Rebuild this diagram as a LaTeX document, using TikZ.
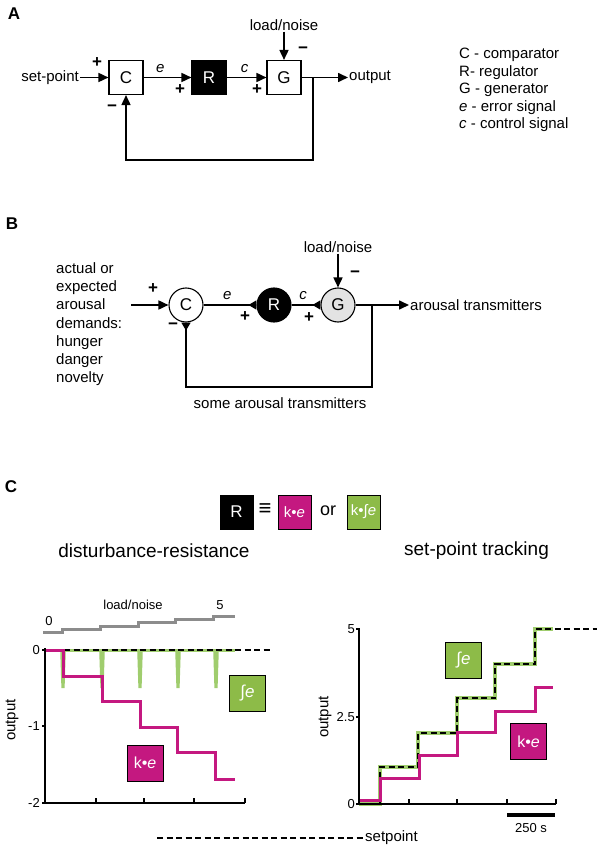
\documentclass[tikz,border=0pt]{standalone}
\usepackage{fontspec}
\setmainfont{Liberation Sans}
\usetikzlibrary{arrows.meta}
\definecolor{kmag}{RGB}{196,24,128}
\definecolor{kgreen}{RGB}{141,187,72}
\definecolor{lgreen}{RGB}{160,205,110}
\definecolor{ldgray}{RGB}{140,140,140}

\begin{document}
\begin{tikzpicture}[x=1pt, y=-1pt,
    every node/.style={font=\fontsize{15}{18}\selectfont, inner sep=1pt},
    >={Triangle[length=10pt,width=9pt]},
    sig/.style={line width=1.6pt},
    rev/.style={line width=1.6pt, -{Triangle[length=8pt,width=9pt,reversed]}},
    blk/.style={draw, line width=1.1pt, minimum width=34pt, minimum height=34pt, font=\fontsize{17}{20}\selectfont},
    circ/.style={circle, draw, line width=1.1pt, minimum size=34pt, font=\fontsize{17}{20}\selectfont},
    panel/.style={font=\fontsize{17}{20}\selectfont\bfseries},
    signlab/.style={font=\fontsize{17}{20}\selectfont\bfseries},
    gbox/.style={draw, line width=1pt, minimum width=36pt, minimum height=36pt, text=white, font=\fontsize{17}{20}\selectfont},
    ticklab/.style={font=\fontsize{13}{15}\selectfont},
    sp/.style={line width=1.5pt, dash pattern=on 6pt off 3.5pt}
]
    \useasboundingbox (0,0) rectangle (598,850);

    % ---------- A ----------
    \node[panel] (lA) at (14,14) {A};

    \node[blk] (C) at (126,77.5) {C};
    \node[blk, fill=black, text=white] (R) at (209,77.5) {R};
    \node[blk] (G) at (284,77.5) {G};

    \node[anchor=east] (spA) at (80,77.5) {set-point};
    \node[anchor=west] (outA) at (348,77.5) {output};
    \node (lnA) at (284,25) {load/noise};

    \draw[sig,->] (spA) -- (C);
    \draw[sig,->] (C) -- (R) node[pos=0.35, above=3pt] (eA) {\textit{e}};
    \draw[sig,->] (R) -- (G) node[pos=0.45, above=3pt] (cA) {\textit{c}};
    \draw[sig,->] (G) -- (outA);
    \draw[sig,->] (lnA) -- (G);

    % retroalimentacao
    \coordinate (fbA) at (313,77.5);
    \draw[sig,->] (fbA) -- (313,160) -| (C);

    % sinais
    \node[signlab] (pA1) at (97,63) {+};
    \node[signlab] (mA1) at (112,108) {−};
    \node[signlab] (pA2) at (180,90) {+};
    \node[signlab] (pA3) at (257,90) {+};
    \node[signlab] (mA2) at (303,50) {−};

    % legenda
    \foreach \txt [count=\i] in {C - comparator, R- regulator, G - generator, \textit{e} - error signal, \textit{c} - control signal}
        \node[anchor=base west] (leg\i) at (458,{58.5+17.6*(\i-1)}) {\txt};

    % ---------- B ----------
    \node[panel] (lB) at (12,224) {B};

    \node[circ] (Cb) at (186,305) {C};
    \node[circ, fill=black, text=white] (Rb) at (274,305) {R};
    \node[circ, fill=gray!22] (Gb) at (338,305) {G};

    \foreach \txt [count=\i] in {actual or, expected, arousal, demands:, hunger, danger, novelty}
        \node[anchor=base west] (dem\i) at (55,{273.5+18.2*(\i-1)}) {\txt};

    \node (lnB) at (338,247) {load/noise};
    \node[anchor=west] (outB) at (409,305) {arousal transmitters};
    \node (someB) at (280,403) {some arousal transmitters};

    \coordinate (inB) at (131,305);
    \draw[sig,->] (inB) -- (Cb);
    \draw[rev] (Cb) -- (Rb) node[pos=0.45, above=4pt] (eB) {\textit{e}};
    \draw[rev] (Rb) -- (Gb) node[pos=0.4, above=4pt] (cB) {\textit{c}};
    \draw[sig,->] (Gb) -- (outB);
    \draw[sig,->] (lnB) -- (Gb);

    \coordinate (fbB) at (372,305);
    \draw[rev] (fbB) -- (372,387) -| (Cb);

    \node[signlab] (pB1) at (153,289) {+};
    \node[signlab] (mB1) at (173,326) {−};
    \node[signlab] (pB2) at (245,317) {+};
    \node[signlab] (pB3) at (309,318) {+};
    \node[signlab] (mB2) at (355,274) {−};

    % ---------- C ----------
    \node[panel] (lC) at (11,487) {C};

    \node[gbox, fill=black, minimum width=33pt, minimum height=34pt] (Rc) at (236.5,512) {R};
    \node[font=\fontsize{22}{24}\selectfont] (eqv) at (265,510) {≡};
    \node[gbox, fill=kmag, minimum width=33pt, minimum height=34pt, font=\fontsize{15}{18}\selectfont] (kp) at (294.5,512) {k•\textit{e}};
    \node[font=\fontsize{18}{20}\selectfont] (orC) at (328,511) {or};
    \node[gbox, fill=kgreen, minimum width=33pt, minimum height=34pt, font=\fontsize{15}{18}\selectfont] (ki) at (363.5,512) {k•∫\textit{e}};

    \node[font=\fontsize{19}{22}\selectfont] (hd1) at (154,551) {disturbance-resistance};
    \node[font=\fontsize{19}{22}\selectfont] (hd2) at (476.5,551) {set-point tracking};

    % grafico esquerdo (disturbance-resistance)
    \draw[line width=3pt, ldgray] (43,632) -- (62,632) -- (62,629.5) -- (100,629.5) -- (100,626) -- (138,626)
        -- (138,622.7) -- (175,622.7) -- (175,619.3) -- (213,619.3) -- (213,616.7) -- (235,616.7);
    \node[ticklab] (ln0) at (49,621) {0};
    \node[ticklab] (lnL) at (133,605) {load/noise};
    \node[ticklab] (ln5) at (220,605) {5};

    \draw[line width=3pt, lgreen] (45,650) -- (235,650);
    \foreach \x in {63,102,140,178,216}
        \fill[lgreen] (\x-2.8,650) -- (\x+2.8,650) -- (\x+1.6,688) -- (\x-1.6,688) -- cycle;
    \draw[sp] (45,650) -- (272,650);
    \draw[line width=3pt, kmag] (45,650) -- (63,650) -- (63,676) -- (102,676) -- (102,701) -- (140,701)
        -- (140,727) -- (177,727) -- (177,752) -- (215,752) -- (215,779) -- (235,779);

    \draw[line width=1.3pt] (45,648) -- (45,803) -- (245,803);
    \foreach \x in {96,144,194,245}
        \draw[line width=1.3pt] (\x,803) -- (\x,798);
    \foreach \y/\t in {650/0, 726/-1, 803/-2} {
        \draw[line width=1.3pt] (42,\y) -- (45,\y);
        \node[ticklab, anchor=east] (yl\t) at (41,\y) {\t};
    }
    \node[rotate=90] (yaxL) at (12,720) {output};

    \node[gbox, fill=kgreen] (intL) at (247.5,693) {∫\textit{e}};
    \node[gbox, fill=kmag, font=\fontsize{16}{19}\selectfont] (propL) at (145,763) {k•\textit{e}};

    % grafico direito (set-point tracking)
    \draw[line width=4pt, lgreen] (359,804) -- (380,804) -- (380,767) -- (418,767) -- (418,733) -- (457,733)
        -- (457,698) -- (495,698) -- (495,664) -- (535,664) -- (535,629) -- (553,629);
    \draw[sp] (359,804) -- (380,804) -- (380,767) -- (418,767) -- (418,733) -- (457,733)
        -- (457,698) -- (495,698) -- (495,664) -- (535,664) -- (535,629) -- (597,629);
    \draw[line width=3pt, kmag] (359,800) -- (380,800) -- (380,778) -- (419,778) -- (419,755) -- (457,755)
        -- (457,732) -- (495,732) -- (495,711) -- (535,711) -- (535,687) -- (553,687);

    \draw[line width=1.3pt] (359,628) -- (359,804) -- (556,804);
    \foreach \x in {409,457,507,556}
        \draw[line width=1.3pt] (\x,804) -- (\x,799);
    \foreach \y/\t in {629/5, 717/2.5, 804/0} {
        \draw[line width=1.3pt] (356,\y) -- (359,\y);
        \node[ticklab, anchor=east] (yr\t) at (356,\y) {\t};
    }
    \node[rotate=90] (yaxR) at (325,717) {output};

    \node[gbox, fill=kgreen] (intR) at (463.5,660.5) {∫\textit{e}};
    \node[gbox, fill=kmag, font=\fontsize{16}{19}\selectfont] (propR) at (528.5,741.5) {k•\textit{e}};

    % barra de escala
    \coordinate (sb1) at (507,815);
    \coordinate (sb2) at (555,815);
    \draw[line width=3.3pt] (sb1) -- (sb2);
    \node[ticklab] (sbl) at (531,828) {250 s};

    % legenda setpoint
    \coordinate (spl) at (157,838);
    \node[anchor=west] (splab) at (364,838) {setpoint};
    \draw[sp] (spl) -- (splab);
\end{tikzpicture}
\end{document}
